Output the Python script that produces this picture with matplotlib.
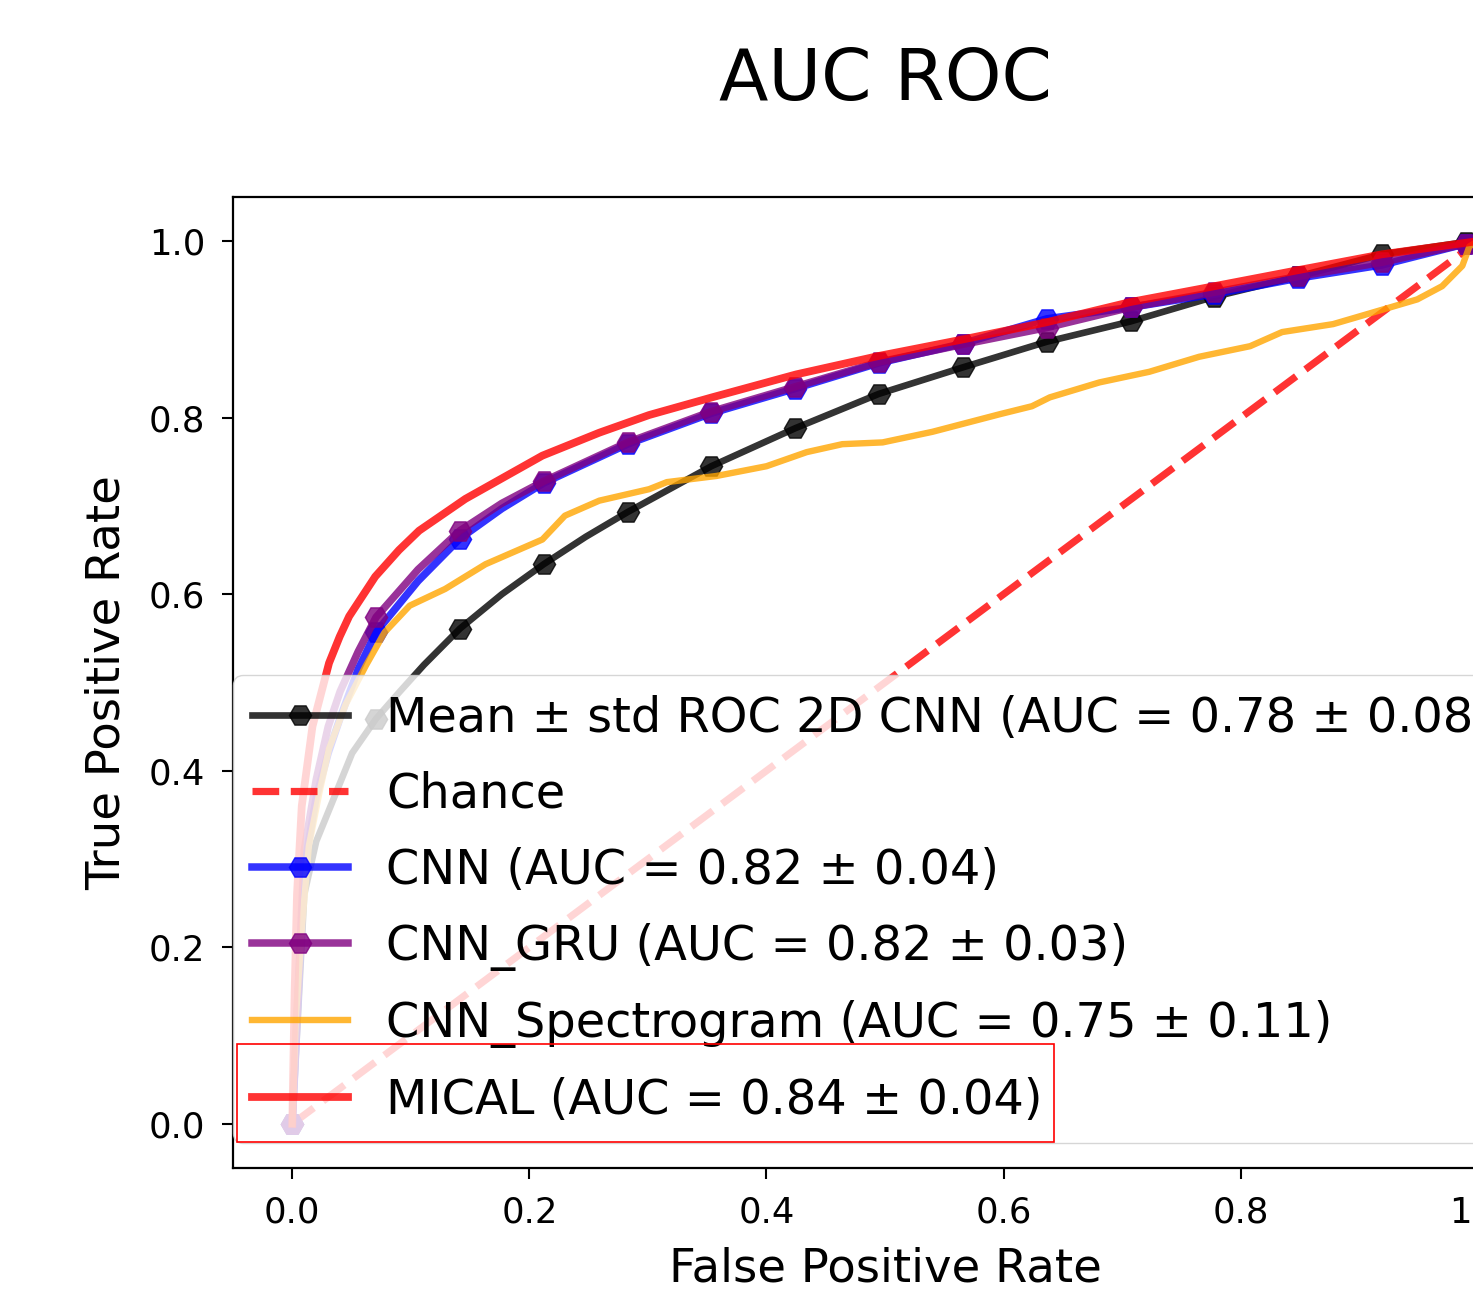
import numpy as np
import matplotlib
matplotlib.use("Agg")
import matplotlib.pyplot as plt
from matplotlib.patches import Rectangle

# ---------------- data ----------------
MARK_FPR = [0.0, 0.0707, 0.1414, 0.2121, 0.2828, 0.3535, 0.4242, 0.4949,
            0.5657, 0.6364, 0.7071, 0.7778, 0.8485, 0.9192, 0.9899]

mean2d_fpr = [0, 0.0101, 0.0202, 0.0354, 0.0505, 0.0707, 0.0909, 0.1111, 0.1414,
              0.1768, 0.2121, 0.2475, 0.2828, 0.3535, 0.4242, 0.4949, 0.5657,
              0.6364, 0.7071, 0.7778, 0.8485, 0.9192, 0.9899, 1.0]
mean2d_tpr = [0, 0.26, 0.32, 0.37, 0.42, 0.459, 0.49, 0.52, 0.561,
              0.600, 0.634, 0.665, 0.693, 0.745, 0.788, 0.827, 0.857,
              0.886, 0.909, 0.937, 0.960, 0.985, 0.999, 1.0]

cnn_fpr = [0, 0.0101, 0.0202, 0.0303, 0.0404, 0.0556, 0.0707, 0.1061, 0.1414,
           0.1768, 0.2121, 0.2828, 0.3535, 0.4242, 0.4949, 0.5657, 0.6364,
           0.7071, 0.7778, 0.8485, 0.9192, 0.9899, 1.0]
cnn_tpr = [0, 0.29, 0.37, 0.42, 0.46, 0.515, 0.557, 0.615, 0.663,
           0.697, 0.726, 0.770, 0.805, 0.833, 0.862, 0.884, 0.912,
           0.925, 0.940, 0.958, 0.973, 0.997, 1.0]

gru_fpr = cnn_fpr
gru_tpr = [0, 0.31, 0.39, 0.45, 0.49, 0.535, 0.574, 0.628, 0.672,
           0.703, 0.728, 0.772, 0.807, 0.835, 0.863, 0.883, 0.902,
           0.925, 0.942, 0.960, 0.976, 0.997, 1.0]

spec_fpr = [0, 0.003, 0.008, 0.014, 0.023, 0.031, 0.045, 0.062, 0.078, 0.099,
            0.129, 0.163, 0.211, 0.230, 0.259, 0.301, 0.316, 0.358, 0.400,
            0.434, 0.464, 0.498, 0.540, 0.597, 0.624, 0.639, 0.681, 0.723,
            0.765, 0.808, 0.835, 0.878, 0.906, 0.949, 0.970, 0.987, 0.993, 1.0]
spec_tpr = [0, 0.12, 0.22, 0.315, 0.376, 0.425, 0.475, 0.519, 0.557, 0.587,
            0.606, 0.634, 0.662, 0.689, 0.706, 0.719, 0.727, 0.734, 0.745,
            0.761, 0.770, 0.772, 0.784, 0.804, 0.813, 0.823, 0.840, 0.852,
            0.869, 0.881, 0.897, 0.906, 0.917, 0.934, 0.949, 0.972, 0.994, 1.0]

mical_fpr = [0, 0.002, 0.004, 0.008, 0.017, 0.031, 0.040, 0.048, 0.070, 0.090,
             0.107, 0.146, 0.211, 0.259, 0.301, 0.354, 0.425, 0.495, 0.567,
             0.636, 0.707, 0.778, 0.848, 0.919, 1.0]
mical_tpr = [0, 0.15, 0.26, 0.36, 0.45, 0.522, 0.552, 0.575, 0.620, 0.650,
             0.672, 0.708, 0.757, 0.783, 0.803, 0.823, 0.849, 0.870, 0.889,
             0.908, 0.931, 0.949, 0.967, 0.985, 1.0]

chance_x = [0, 1]
chance_y = [0, 1]

labels = ["Mean \u00b1 std ROC 2D CNN (AUC = 0.78 \u00b1 0.08)",
          "Chance",
          "CNN (AUC = 0.82 \u00b1 0.04)",
          "CNN_GRU (AUC = 0.82 \u00b1 0.03)",
          "CNN_Spectrogram (AUC = 0.75 \u00b1 0.11)",
          "MICAL (AUC = 0.84 \u00b1 0.04)"]

ticks = [0.0, 0.2, 0.4, 0.6, 0.8, 1.0]


def mark_idx(fpr):
    f = np.asarray(fpr)
    return [int(np.argmin(np.abs(f - m))) for m in MARK_FPR]


# ---------------- figure ----------------
W, H = 1473, 1296
fig = plt.figure(figsize=(W / 100, H / 100), dpi=100)
ax = fig.add_axes([233 / W, 128 / H, 1304 / W, 971 / H])

MS = 16
ax.plot(mean2d_fpr, mean2d_tpr, color="black", lw=4.8, alpha=0.8,
        marker="H", ms=MS, markevery=mark_idx(mean2d_fpr), label=labels[0])
ax.plot(chance_x, chance_y, linestyle="--", color="red", lw=5.2, alpha=0.8,
        label=labels[1])
ax.plot(cnn_fpr, cnn_tpr, color="blue", lw=5.4, alpha=0.8,
        marker="H", ms=MS, markevery=mark_idx(cnn_fpr), label=labels[2])
ax.plot(gru_fpr, gru_tpr, color="purple", lw=5.4, alpha=0.8,
        marker="H", ms=MS, markevery=mark_idx(gru_fpr), label=labels[3])
ax.plot(spec_fpr, spec_tpr, color="orange", lw=4.6, alpha=0.8,
        label=labels[4])
ax.plot(mical_fpr, mical_tpr, color="red", lw=5.6, alpha=0.8,
        label=labels[5])

ax.set_xlim(-0.05, 1.05)
ax.set_ylim(-0.05, 1.05)
ax.set_xticks(ticks)
ax.set_yticks(ticks)
ax.tick_params(axis="both", labelsize=25.5, length=8, width=1.5, pad=12)
for s in ax.spines.values():
    s.set_linewidth(1.6)

ax.set_xlabel("False Positive Rate", fontsize=33.5, labelpad=12)
ax.set_ylabel("True Positive Rate", fontsize=33.5, labelpad=14)
ax.set_title("AUC ROC", fontsize=52, pad=70)

ax.legend(loc="lower left", bbox_to_anchor=(0.0, 0.026),
          borderaxespad=0, fontsize=34.5, labelspacing=0.605)

fig.add_artist(Rectangle((237 / W, (H - 1142) / H), 817 / W, 98 / H,
                         transform=fig.transFigure, fill=False,
                         edgecolor="red", lw=1.2, zorder=10))

fig.savefig("out.png", dpi=100)
